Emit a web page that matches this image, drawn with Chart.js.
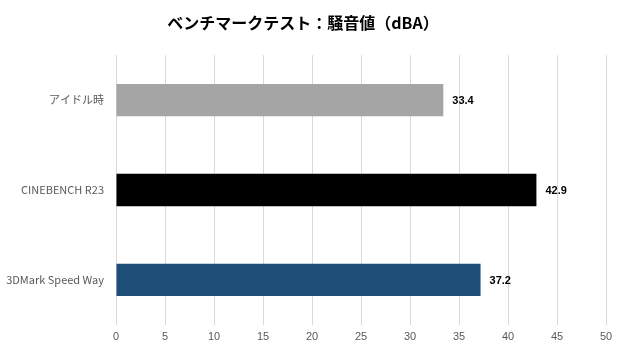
<!DOCTYPE html>
<html><head><meta charset="utf-8">
<script src="https://cdn.jsdelivr.net/npm/chart.js@4/dist/chart.umd.min.js"></script>
<style>html,body{margin:0;padding:0;background:#fff}#wrap{width:620px;height:350px}</style>
</head><body><div id="wrap"><canvas id="c" width="620" height="350"></canvas></div>
<script>
const categories = ["アイドル時", "CINEBENCH R23", "3DMark Speed Way"];
const values = [33.4, 42.9, 37.2];
const barColors = ["#A5A5A5", "#000000", "#1F4E79"];
const chartTitle = "ベンチマークテスト：騒音値（dBA）";

const labelPlugin = {
  id: "vlabels",
  afterDatasetsDraw(chart) {
    const ctx = chart.ctx;
    const meta = chart.getDatasetMeta(0);
    ctx.save();
    ctx.font = "bold 11px 'Liberation Sans', Arial, sans-serif";
    ctx.fillStyle = "#000";
    ctx.textAlign = "left";
    ctx.textBaseline = "middle";
    meta.data.forEach((el, i) => {
      ctx.fillText(values[i].toFixed(1), el.x + 9, el.y + 1);
    });
    ctx.restore();
  }
};

new Chart(document.getElementById("c"), {
  type: "bar",
  data: {
    labels: categories,
    datasets: [{
      data: values,
      backgroundColor: barColors,
      borderWidth: 0,
      barPercentage: 0.36,
      categoryPercentage: 1.0
    }]
  },
  options: {
    indexAxis: "y",
    responsive: false,
    animation: false,
    layout: { padding: { left: 0, right: 14, top: 4, bottom: 0 } },
    plugins: {
      legend: { display: false },
      tooltip: { enabled: false },
      title: {
        display: true,
        text: chartTitle,
        color: "#000",
        font: { family: "'Noto Sans CJK JP', sans-serif", size: 16, weight: "bold" },
        padding: { top: 9, bottom: 23 }
      }
    },
    scales: {
      x: {
        min: 0, max: 50,
        ticks: { stepSize: 5, color: "#595959", font: { family: "'Liberation Sans', Arial, sans-serif", size: 11 }, padding: 6 },
        grid: { color: "#D9D9D9", drawTicks: false, lineWidth: 1 },
        border: { display: false }
      },
      y: {
        afterFit(scale) { scale.width = 116; },
        ticks: { color: "#595959", font: { family: "'Noto Sans CJK JP', 'Liberation Sans', sans-serif", size: 11 }, padding: 12 },
        grid: { display: false, drawTicks: false },
        border: { display: true, color: "#D9D9D9" }
      }
    }
  },
  plugins: [labelPlugin]
});
</script></body></html>
